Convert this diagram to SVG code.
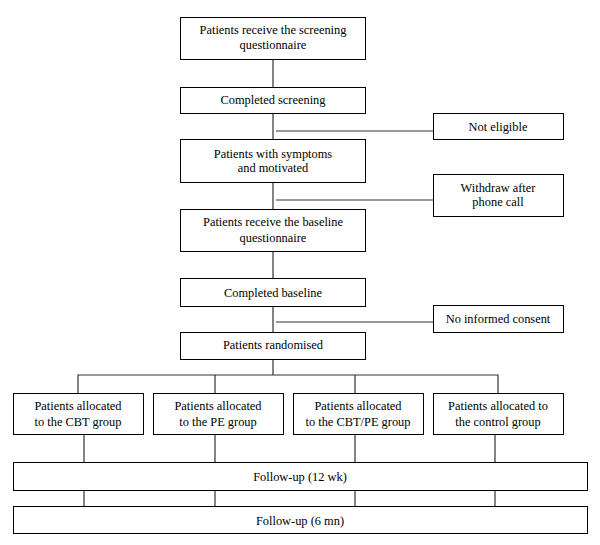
<svg xmlns="http://www.w3.org/2000/svg" width="600" height="545" viewBox="0 0 600 545">
<style>
.box{fill:#fff;stroke:#000;stroke-width:1}
.ln{stroke:#333;stroke-width:1.2;fill:none}
text{font-family:'Liberation Serif','Times New Roman','DejaVu Serif',serif;font-size:12.4px;fill:#000;text-anchor:middle}
</style>
<rect width="600" height="545" fill="#fff"/>
<g id="connectors">
<path class="ln" d="M273 59V87M273 113V139M273 182V209M273 251V278M273 306V332M273 359V375"/>
<path class="ln" d="M276 131H433M276 200H433M276 322H433"/>
<path class="ln" d="M78 393V375H498V393M215 375V393M355 375V393"/>
<path class="ln" d="M84 434V462M215 434V462M355 434V462M495 434V462"/>
<path class="ln" d="M84 490V506M215 490V506M355 490V506M495 490V506"/>
</g>
<g id="n1"><rect class="box" x="180.5" y="17.5" width="185" height="42"/><text x="273" y="34">Patients receive the screening</text><text x="273" y="49">questionnaire</text></g>
<g id="n2"><rect class="box" x="180.5" y="87.5" width="185" height="26"/><text x="273" y="104">Completed screening</text></g>
<g id="n3"><rect class="box" x="433.5" y="113.5" width="130" height="26"/><text x="498" y="131">Not eligible</text></g>
<g id="n4"><rect class="box" x="180.5" y="139.5" width="185" height="43"/><text x="273" y="158">Patients with symptoms</text><text x="273" y="172">and motivated</text></g>
<g id="n5"><rect class="box" x="433.5" y="174.5" width="130" height="42"/><text x="498" y="192">Withdraw after</text><text x="498" y="206">phone call</text></g>
<g id="n6"><rect class="box" x="180.5" y="209.5" width="185" height="42"/><text x="273" y="226">Patients receive the baseline</text><text x="273" y="242">questionnaire</text></g>
<g id="n7"><rect class="box" x="180.5" y="278.5" width="185" height="28"/><text x="273" y="297">Completed baseline</text></g>
<g id="n8"><rect class="box" x="433.5" y="305.5" width="130" height="27"/><text x="498" y="323">No informed consent</text></g>
<g id="n9"><rect class="box" x="180.5" y="332.5" width="185" height="27"/><text x="273" y="349">Patients randomised</text></g>
<g id="n10"><rect class="box" x="13.5" y="393.5" width="130" height="41"/><text x="78" y="410">Patients allocated</text><text x="78" y="426">to the CBT group</text></g>
<g id="n11"><rect class="box" x="153.5" y="393.5" width="130" height="41"/><text x="218" y="410">Patients allocated</text><text x="218" y="426">to the PE group</text></g>
<g id="n12"><rect class="box" x="293.5" y="393.5" width="130" height="41"/><text x="358" y="410">Patients allocated</text><text x="358" y="426">to the CBT/PE group</text></g>
<g id="n13"><rect class="box" x="433.5" y="393.5" width="130" height="41"/><text x="498" y="410">Patients allocated to</text><text x="498" y="426">the control group</text></g>
<g id="n14"><rect class="box" x="13.5" y="462.5" width="574" height="28"/><text x="300" y="481">Follow-up (12 wk)</text></g>
<g id="n15"><rect class="box" x="13.5" y="506.5" width="574" height="27"/><text x="300" y="525">Follow-up (6 mn)</text></g>
</svg>
